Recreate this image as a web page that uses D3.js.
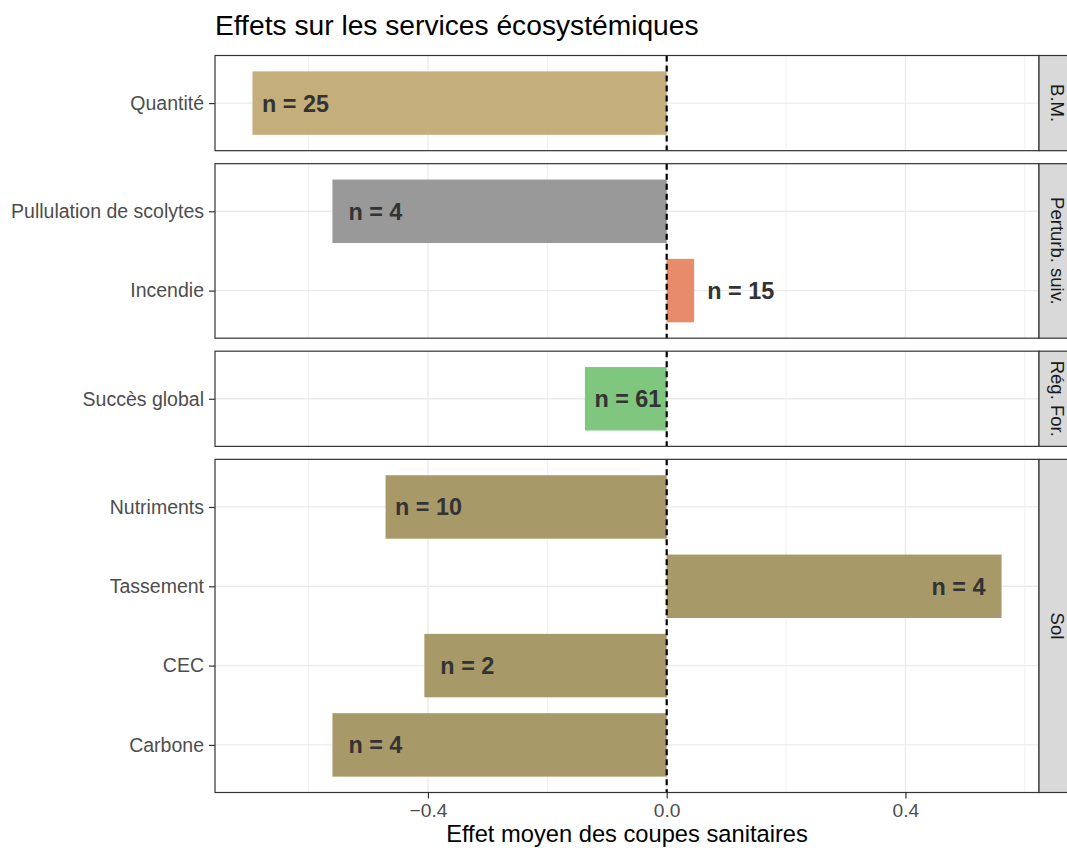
<!DOCTYPE html>
<html>
<head>
<meta charset="utf-8">
<script src="https://cdn.jsdelivr.net/npm/d3@7"></script>
<style>
  html, body { margin: 0; padding: 0; background: #fff; }
  svg { display: block; font-family: "Liberation Sans", Arial, Helvetica, sans-serif; }
</style>
</head>
<body>
<svg id="chart" width="1067" height="848"></svg>
<script>
// ---- data ----
const categories = ["Quantité", "Pullulation de scolytes", "Incendie", "Succès global",
                    "Nutriments", "Tassement", "CEC", "Carbone"];
const groups = ["B.M.", "Perturb. suiv.", "Perturb. suiv.", "Rég. For.",
                "Sol", "Sol", "Sol", "Sol"];
const values = [-0.694, -0.56, 0.046, -0.137, -0.471, 0.561, -0.406, -0.56];
const counts = [25, 4, 15, 61, 10, 4, 2, 4];
const barColors = ["#c4ae7b", "#999999", "#e88b6a", "#7fc67f",
                   "#a89a68", "#a89a68", "#a89a68", "#a89a68"];
const xTicks = [-0.4, 0.0, 0.4];
const xMinor = [-0.6, -0.2, 0.2, 0.6];
const title = "Effets sur les services écosystémiques";
const xTitle = "Effet moyen des coupes sanitaires";

// ---- layout ----
const svg = d3.select("#chart");
const plotL = 215, plotR = 1039, plotT = 55.5, plotB = 792.5, gap = 13;
const stripW = 38;

const panelNames = Array.from(new Set(groups));
const panelCats = panelNames.map(g => categories.filter((c, i) => groups[i] === g));
const totalUnits = d3.sum(panelCats, cs => cs.length + 0.2);
const unit = (plotB - plotT - gap * (panelNames.length - 1)) / totalUnits;

const ext = d3.extent(values.concat([0]));
const pad = (ext[1] - ext[0]) * 0.05;
const x = d3.scaleLinear().domain([ext[0] - pad, ext[1] + pad]).range([plotL, plotR]);

// title
svg.append("text")
  .attr("x", plotL).attr("y", 35)
  .attr("font-size", 28.2).attr("fill", "#000")
  .text(title);

let y0 = plotT;
panelNames.forEach((g, pi) => {
  const cats = panelCats[pi];
  const h = (cats.length + 0.2) * unit;
  const y = d3.scalePoint().domain(cats).range([y0, y0 + h]).padding(0.6);
  const step = y.step();
  const pg = svg.append("g");

  pg.append("rect").attr("x", plotL).attr("y", y0).attr("width", plotR - plotL).attr("height", h)
    .attr("fill", "#fff");
  pg.selectAll(".minor").data(xMinor).join("line")
    .attr("x1", d => x(d)).attr("x2", d => x(d)).attr("y1", y0).attr("y2", y0 + h)
    .attr("stroke", "#f0f0f0").attr("stroke-width", 1);
  pg.selectAll(".majorx").data(xTicks).join("line")
    .attr("x1", d => x(d)).attr("x2", d => x(d)).attr("y1", y0).attr("y2", y0 + h)
    .attr("stroke", "#ebebeb").attr("stroke-width", 1.3);
  pg.selectAll(".majory").data(cats).join("line")
    .attr("x1", plotL).attr("x2", plotR).attr("y1", d => y(d)).attr("y2", d => y(d))
    .attr("stroke", "#ebebeb").attr("stroke-width", 1.3);

  const idx = cats.map(c => categories.indexOf(c));
  pg.selectAll(".bar").data(idx).join("rect")
    .attr("x", i => x(Math.min(0, values[i])))
    .attr("width", i => Math.abs(x(values[i]) - x(0)))
    .attr("y", i => y(categories[i]) - step * 0.4)
    .attr("height", step * 0.8)
    .attr("fill", i => barColors[i]);

  pg.append("line")
    .attr("x1", x(0)).attr("x2", x(0)).attr("y1", y0).attr("y2", y0 + h)
    .attr("stroke", "#000").attr("stroke-width", 2.2).attr("stroke-dasharray", "6,4");

  pg.selectAll(".lab").data(idx).join("text")
    .attr("x", i => {
      const v = values[i];
      const lx = Math.abs(v) < 0.1 ? v + 0.078 : v - Math.sign(v) * 0.072;
      return x(lx);
    })
    .attr("y", i => y(categories[i]))
    .attr("dy", "0.36em")
    .attr("text-anchor", "middle")
    .attr("font-size", 23.4).attr("font-weight", "bold").attr("fill", "#333")
    .text(i => "n = " + counts[i]);

  pg.append("rect").attr("x", plotL).attr("y", y0).attr("width", plotR - plotL).attr("height", h)
    .attr("fill", "none").attr("stroke", "#333").attr("stroke-width", 1.2);

  pg.append("rect").attr("x", plotR).attr("y", y0).attr("width", stripW).attr("height", h)
    .attr("fill", "#d9d9d9").attr("stroke", "#333").attr("stroke-width", 1.2);
  pg.append("text")
    .attr("transform", `translate(${plotR + stripW / 2},${y0 + h / 2}) rotate(90)`)
    .attr("text-anchor", "middle").attr("dy", "0.36em")
    .attr("font-size", 18.5).attr("fill", "#1a1a1a")
    .text(g);

  const ya = pg.append("g").attr("transform", `translate(${plotL},0)`)
    .call(d3.axisLeft(y).tickSize(6).tickPadding(5));
  ya.select(".domain").remove();
  ya.selectAll(".tick line").attr("stroke", "#333").attr("stroke-width", 1.2);
  ya.selectAll(".tick text").attr("font-size", 19.5).attr("fill", "#4d4d4d")
    .attr("font-family", "Liberation Sans, Arial, sans-serif");

  if (pi === panelNames.length - 1) {
    const xa = pg.append("g").attr("transform", `translate(0,${y0 + h})`)
      .call(d3.axisBottom(x).tickValues(xTicks).tickFormat(d3.format(".1f")).tickSize(6).tickPadding(5));
    xa.select(".domain").remove();
    xa.selectAll(".tick line").attr("stroke", "#333").attr("stroke-width", 1.2);
    xa.selectAll(".tick text").attr("font-size", 19.2).attr("fill", "#4d4d4d")
      .attr("font-family", "Liberation Sans, Arial, sans-serif");
  }

  y0 += h + gap;
});

svg.append("text")
  .attr("x", (plotL + plotR) / 2).attr("y", 842)
  .attr("text-anchor", "middle")
  .attr("font-size", 23.7).attr("fill", "#000")
  .text(xTitle);
</script>
</body>
</html>
